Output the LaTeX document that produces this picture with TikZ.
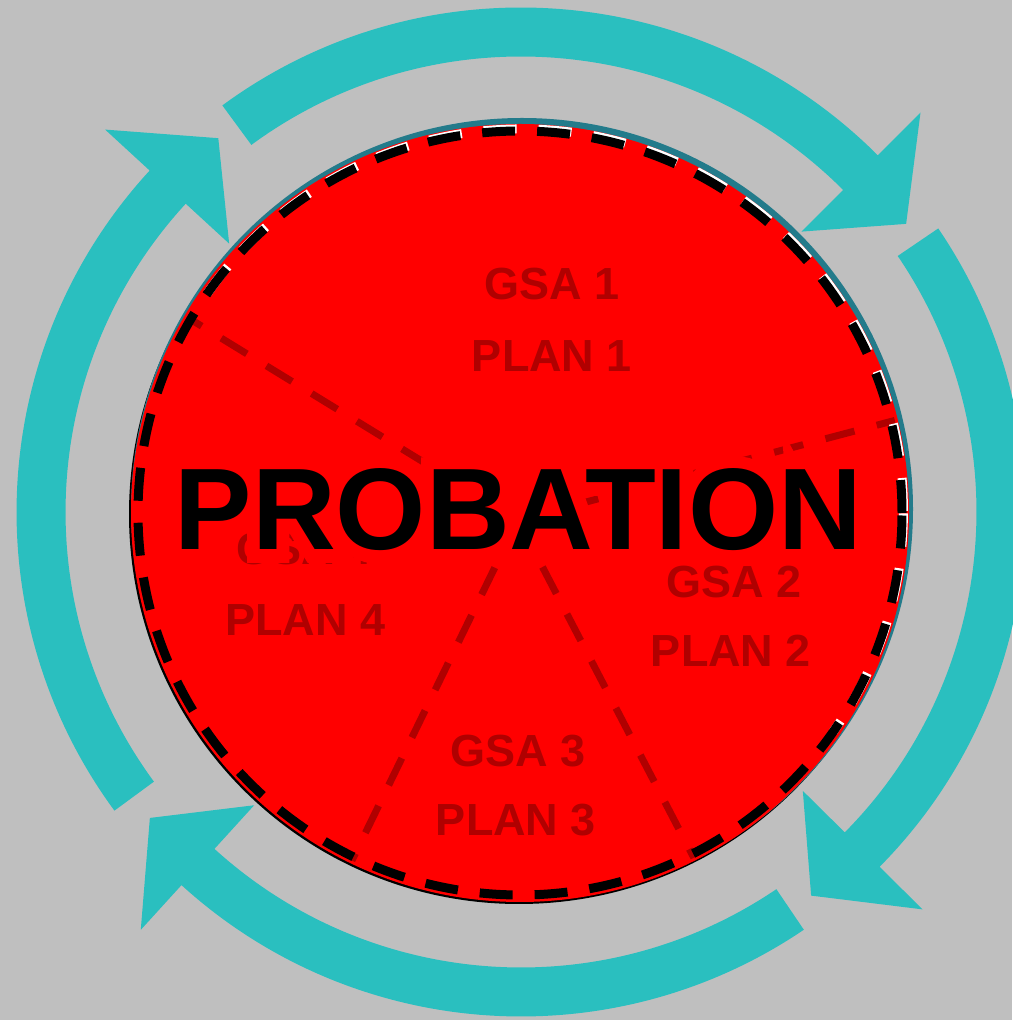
\documentclass[tikz,border=0pt]{standalone}
\usepackage{fontspec}
\setmainfont{Liberation Sans}
\newfontfamily\glowfont[FakeBold=22]{Liberation Sans Bold}
\definecolor{bggray}{RGB}{191,191,191}
\definecolor{cyclecyan}{RGB}{42,191,191}
\definecolor{rimteal}{RGB}{35,123,139}
\definecolor{plandark}{RGB}{176,0,0}
\tikzset{
  planlabel/.style={text=plandark, font=\bfseries\fontsize{45}{54}\selectfont, anchor=base, inner sep=0pt},
  sectorline/.style={draw=plandark, line width=7pt, dash pattern=on 30pt off 23pt},
  rimdash/.style={line width=9pt, dash pattern=on 33pt off 22pt},
  bigword/.style={font=\bfseries\fontsize{116}{130}\selectfont, anchor=base, inner sep=0pt},
  glowword/.style={font=\glowfont\fontsize{116}{130}\selectfont, text=red, anchor=base, inner sep=0pt},
}
\begin{document}
\begin{tikzpicture}[x=1pt,y=1pt]
                \fill [bggray] (0,0) rectangle (1012,1020) ;
                \useasboundingbox (0,0) rectangle (1012,1020) ;
                \coordinate (ring) at (521,508) ;
                \coordinate (disc) at (520,507) ;
                \coordinate (hub) at (518,500) ;
                \coordinate (wordbase) at (518.5,470) ;
                \foreach \tail/\base/\tip in {126.3/45/36.8, 34.2/-44.7/-52.9, -55.9/-132.3/-140.5, 216.3/137.4/129}
                  \fill [cyclecyan, shift={(521,508)}] (\tail:504.5) arc [start angle=\tail, end angle=\base, radius=504.5]
                    -- (\base:565) -- (\tip:481) -- (\base:396.5) -- (\base:455.5)
                    arc [start angle=\base, end angle=\tail, radius=455.5] -- cycle ;
                \fill [black] (519,506) circle (390) ;
                \fill [rimteal] (522,511) circle (391) ;
                \fill [red] (disc) circle (389) ;
                \path (hub) ++(148.5:600) coordinate (rimA) ;
                \path (hub) ++(14.8:600) coordinate (rimB) ;
                \path (hub) ++(244:600) coordinate (rimC) ;
                \path (hub) ++(-62.5:600) coordinate (rimD) ;
                \begin{scope}
                  \clip (disc) circle (386) ;
                  \draw [sectorline] (hub) -- (rimA) ;
                  \draw [sectorline] (hub) -- (rimB) ;
                  \draw [sectorline] (hub) -- (rimC) ;
                  \draw [sectorline] (hub) -- (rimD) ;
                \end{scope}
                \draw (552,720) node [planlabel] (gsa1) {GSA 1} ;
                \draw (552,648) node [planlabel] (plan1) {PLAN 1} ;
                \draw (734,422) node [planlabel] (gsa2) {GSA 2} ;
                \draw (731,353) node [planlabel] (plan2) {PLAN 2} ;
                \draw (518,253) node [planlabel] (gsa3) {GSA 3} ;
                \draw (516,184) node [planlabel] (plan3) {PLAN 3} ;
                \draw (304,455) node [planlabel] (gsa4) {GSA 4} ;
                \draw (305.5,384) node [planlabel] (plan4) {PLAN 4} ;
                \begin{scope}
                  \clip (disc) ++(145:800) -- ++(55:800) -- ++(-35:1600) -- ++(235:800) -- cycle ;
                  \draw [rimdash, white] ([shift={(55:2.5)}]disc) circle (382) ;
                \end{scope}
                \draw [rimdash, black] (disc) circle (382) ;
                \draw (wordbase) node [glowword] (glow) {PROBATION} ;
                \draw (wordbase) node [bigword] (word) {PROBATION} ;
\end{tikzpicture}
\end{document}
